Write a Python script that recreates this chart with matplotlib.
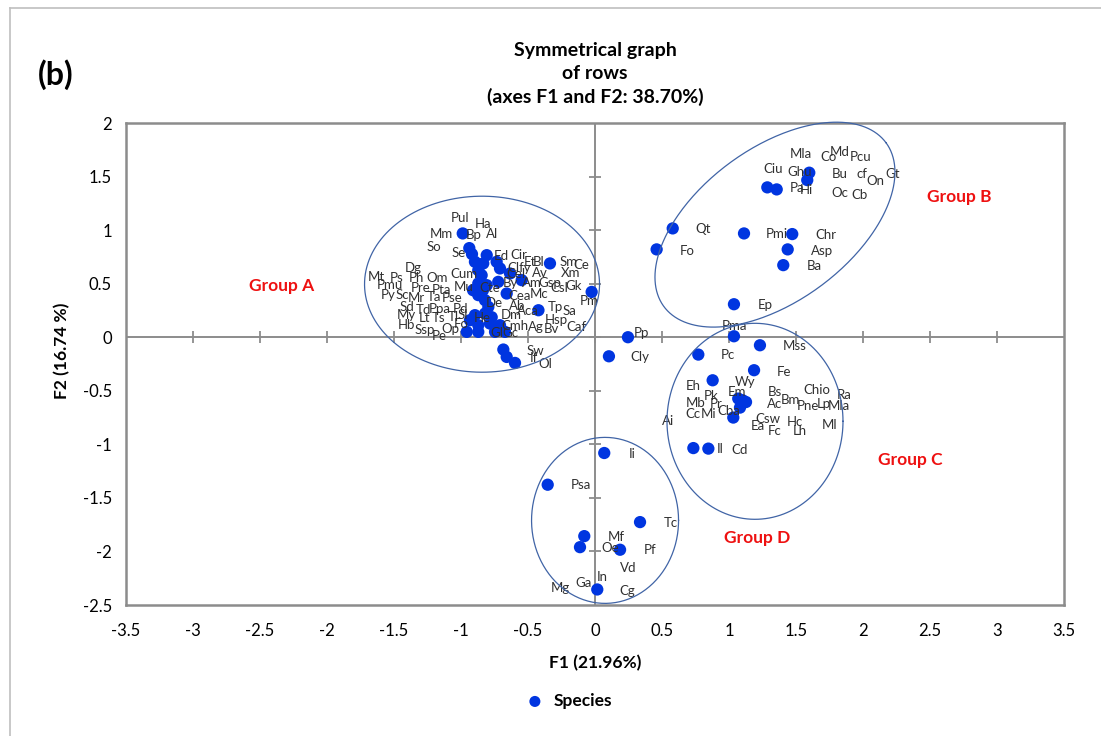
import numpy as np
import matplotlib.pyplot as plt
from matplotlib.lines import Line2D

# species scores on F1 / F2
f1 = [-0.987, -0.938, -0.918, -0.896, -0.808, -0.734, -0.709, -0.634, -0.547, -0.336,
      -0.722, -0.659, -0.422, -0.871, -0.834, -0.846, -0.871, -0.808, -0.871, -0.821,
      -0.796, -0.896, -0.821, -0.871, -0.784, -0.709, -0.957, -0.871, -0.746, -0.672,
      -0.771, -0.836, -0.910, -0.933, -0.684, -0.659, -0.597, -0.025,
      0.246, 0.104,
      0.580, 0.460, 1.112, 1.472, 1.438, 1.405, 1.037, 1.286, 1.356, 1.599, 1.584,
      1.037, 1.231, 0.771, 1.187, 0.878, 1.069, 1.127, 1.082, 1.032, 1.102, 0.734, 0.846,
      0.069, -0.353, 0.336, -0.080, -0.112, 0.187, 0.017]
f2 = [0.969, 0.832, 0.776, 0.704, 0.766, 0.704, 0.642, 0.595, 0.533, 0.689,
      0.517, 0.408, 0.252, 0.626, 0.689, 0.579, 0.502, 0.486, 0.393, 0.346,
      0.283, 0.206, 0.221, 0.112, 0.128, 0.112, 0.050, 0.050, 0.050, 0.050,
      0.187, 0.439, 0.439, 0.159, -0.115, -0.184, -0.240, 0.423,
      0.0, -0.178,
      1.016, 0.820, 0.969, 0.963, 0.820, 0.673, 0.308, 1.399, 1.380, 1.536, 1.467,
      0.009, -0.075, -0.162, -0.308, -0.402, -0.573, -0.605, -0.657, -0.750, -0.589, -1.035, -1.040,
      -1.081, -1.377, -1.726, -1.857, -1.960, -1.984, -2.355]

# data labels as they were placed on the chart
label_names = [
    "Pul", "Ha", "Mm", "Bp", "Al", "So", "Se", "Ed", "Cir", "Et", "Bl", "Sm", "Ce", "Dg",
    "Clfy", "Cel", "Av", "Xm", "Mt", "Ps", "Ph", "Om", "Cum", "Pmu", "Am", "Gsp", "Gk",
    "Csl", "By", "Pre", "Pta", "Mu", "Cte", "Py", "Sc", "Mr", "Ta", "Pse", "Cea", "Mc",
    "Pm", "De", "Sd", "Td", "Ppa", "Pd", "Ab", "Tp", "Sa", "Aca", "My", "Lt", "Ts", "Tl",
    "Sl", "He", "Dm", "Hsp", "Hb", "Ssp", "Op", "Fo", "Cmh", "Ag", "Bv", "Caf", "Pe", "Gl",
    "Gc", "Sw", "If", "Ol",
    "Pp", "Cly",
    "Mla", "Co", "Md", "Pcu", "Ciu", "Ghu", "Bu", "cf", "On", "Gt", "Pa", "Hi", "Oc", "Cb",
    "Qt", "Pmi", "Chr", "Fo", "Asp", "Ba", "Ep",
    "Pma", "Mss", "Pc", "Fe", "Wy", "Eh", "Chio", "Ra", "Bs", "Em", "Pk", "Bm", "Ac", "Mb",
    "Pr", "Pne", "Lp", "Mla", "Cba", "Cc", "Mi", "Csw", "Ai", "Ea", "Hc", "Ml", "Fc", "Lh",
    "Il", "Cd",
    "Ii", "Psa", "Tc", "Mf", "Oe", "Pf", "Vd", "In", "Ga", "Mg", "Cg",
]
label_f1 = [
    -1.007, -0.838, -1.144, -0.903, -0.766, -1.199, -1.020, -0.696, -0.572, -0.485, -0.423,
    -0.199, -0.099, -1.360, -0.565, -0.590, -0.410, -0.179, -1.634, -1.480, -1.336, -1.181,
    -0.975, -1.530, -0.472, -0.336, -0.162, -0.266, -0.634, -1.301, -1.149, -0.983, -0.789,
    -1.543, -1.435, -1.331, -1.201, -1.069, -0.565, -0.416, -0.043, -0.754, -1.405, -1.281,
    -1.157, -1.002, -0.584, -0.293, -0.192, -0.498, -1.405, -1.274, -1.166, -1.057, -0.983,
    -0.838, -0.622, -0.286, -1.405, -1.269, -1.082, -0.995, -0.597, -0.440, -0.328, -0.137,
    -1.164, -0.734, -0.634, -0.448, -0.455, -0.373,
    0.343, 0.336,
    1.535, 1.744, 1.823, 1.983, 1.331, 1.525, 1.828, 1.990, 2.090, 2.222, 1.510, 1.580,
    1.828, 1.972, 0.808, 1.356, 1.722, 0.689, 1.692, 1.637, 1.269,
    1.040, 1.493, 0.995, 1.413, 1.119, 0.734, 1.654, 1.860, 1.346, 1.057, 0.866, 1.460,
    1.343, 0.754, 0.903, 1.592, 1.709, 1.823, 1.002, 0.729, 0.851, 1.293, 0.543, 1.219,
    1.493, 1.754, 1.343, 1.525, 0.933, 1.082,
    0.274, -0.107, 0.565, 0.157, 0.117, 0.410, 0.249, 0.057, -0.087, -0.256, 0.241,
]
label_f2 = [
    1.109, 1.056, 0.960, 0.953, 0.963, 0.838, 0.782, 0.760, 0.766, 0.701, 0.704, 0.704,
    0.673, 0.648, 0.642, 0.589, 0.595, 0.595, 0.558, 0.549, 0.549, 0.549, 0.586, 0.486,
    0.502, 0.502, 0.477, 0.455, 0.502, 0.455, 0.439, 0.470, 0.464, 0.393, 0.393, 0.367,
    0.377, 0.362, 0.386, 0.399, 0.336, 0.324, 0.278, 0.252, 0.262, 0.268, 0.290, 0.278,
    0.246, 0.243, 0.206, 0.175, 0.184, 0.190, 0.212, 0.184, 0.206, 0.159, 0.112, 0.072,
    0.081, 0.121, 0.103, 0.096, 0.075, 0.096, 0.009, 0.035, 0.035, -0.131, -0.193, -0.246,
    0.037, -0.187,
    1.710, 1.679, 1.726, 1.685, 1.570, 1.545, 1.521, 1.521, 1.461, 1.521, 1.390, 1.374,
    1.343, 1.330, 1.007, 0.960, 0.953, 0.807, 0.807, 0.666, 0.299,
    0.103, -0.084, -0.168, -0.324, -0.418, -0.458, -0.489, -0.542, -0.511, -0.511, -0.551,
    -0.589, -0.626, -0.614, -0.620, -0.645, -0.620, -0.645, -0.689, -0.720, -0.720, -0.760,
    -0.785, -0.832, -0.792, -0.822, -0.879, -0.879, -1.047, -1.050,
    -1.093, -1.383, -1.736, -1.866, -1.969, -1.991, -2.152, -2.240, -2.293, -2.343, -2.371,
]

group_names = ["Group A", "Group B", "Group C", "Group D"]
group_f1 = [-2.34, 2.72, 2.35, 1.21]
group_f2 = [0.48, 1.31, -1.15, -1.87]

# hand-drawn ellipses: centre (F1, F2), semi-axes in pixels, tilt in degrees
ell_cx = [-0.843, 1.343, 1.194, 0.075]
ell_cy = [0.495, 1.051, -0.785, -1.710]
ell_a = [117.5, 138.0, 88.0, 73.5]
ell_b = [88.0, 76.5, 98.0, 83.0]
ell_tilt = [0.0, 36.4, 0.0, 0.0]

x_ticks = np.arange(-3.5, 3.51, 0.5)
y_ticks = np.arange(-2.5, 2.01, 0.5)

W, H = 1101, 736
fig = plt.figure(figsize=(W / 100, H / 100), dpi=100)
ax_l, ax_b, ax_w, ax_h = 126 / W, 1 - 605 / H, (1064 - 126) / W, (605 - 123) / H
ax = fig.add_axes([ax_l, ax_b, ax_w, ax_h])
ax.set_xlim(-3.5, 3.5)
ax.set_ylim(-2.5, 2.0)

grey = "#8c8c8c"
body = ["Lato", "DejaVu Sans"]

for s in ax.spines.values():
    s.set_color(grey)
    s.set_linewidth(1.8)

ax.set_xticks(x_ticks)
ax.set_yticks(y_ticks)
ax.set_xticklabels([f"{v:g}" for v in x_ticks], family=body, fontsize=12)
ax.set_yticklabels([f"{v:g}" for v in y_ticks], family=body, fontsize=12)
ax.tick_params(length=0, pad=13)
ax.tick_params(axis="y", pad=10)

# axes through the origin with crossing ticks
ax.axhline(0, color=grey, lw=1.4, zorder=1)
ax.axvline(0, color=grey, lw=1.4, zorder=1)
ax.plot(x_ticks[1:-1], np.zeros(len(x_ticks) - 2), ls="none", marker="|",
        ms=9, mew=1.3, color=grey, zorder=1)
ax.plot(np.zeros(len(y_ticks) - 2), y_ticks[1:-1], ls="none", marker="_",
        ms=9, mew=1.3, color=grey, zorder=1)

pts = ax.scatter(f1, f2, s=78, color="#0035e0", edgecolors="none", zorder=3,
                 label="Species")

for name, x, y in zip(label_names, label_f1, label_f2):
    ax.text(x, y, name, ha="center", va="center", fontsize=9.5, family=body,
            color="#303030", zorder=4)

for name, x, y in zip(group_names, group_f1, group_f2):
    ax.text(x, y, name, ha="center", va="center", fontsize=12.5, family=body,
            fontweight="bold", color="#ee1111", zorder=4)

# ellipses built in screen pixels so the tilt looks right
px_x = ax_w * W / 7.0
px_y = ax_h * H / 4.5
t = np.linspace(0, 2 * np.pi, 300)
for cx, cy, a, b, ang in zip(ell_cx, ell_cy, ell_a, ell_b, ell_tilt):
    th = np.radians(ang)
    u, v = a * np.cos(t), b * np.sin(t)
    ex = cx + (u * np.cos(th) - v * np.sin(th)) / px_x
    ey = cy + (u * np.sin(th) + v * np.cos(th)) / px_y
    ax.plot(ex, ey, color="#4064a6", lw=0.9, zorder=5, clip_on=False)

fig.text(595 / W, 1 - 74 / H, "Symmetrical graph\nof rows\n(axes F1 and F2: 38.70%)",
         ha="center", va="center", fontsize=14, fontweight="bold", family=body,
         linespacing=1.4)
fig.text(56 / W, 1 - 75 / H, "(b)", ha="center", va="center", fontsize=23,
         family=body, fontweight="bold")
fig.text(595 / W, 1 - 663 / H, "F1 (21.96%)", ha="center", va="center",
         fontsize=12.5, family=body, fontweight="bold")
fig.text(62 / W, 1 - 351 / H, "F2 (16.74 %)", ha="center", va="center",
         rotation=90, fontsize=12.5, family=body, fontweight="bold")

fig.legend(handles=[pts], loc="center", bbox_to_anchor=(565 / W, 1 - 701 / H),
           frameon=False, handletextpad=0.1, markerscale=0.9,
           prop={"family": body, "weight": "bold", "size": 12.5})

# outer chart border (top and left visible)
fig.add_artist(Line2D([10 / W, 10 / W], [0, 1 - 8 / H], color="#bfbfbf", lw=1.2))
fig.add_artist(Line2D([10 / W, 1], [1 - 8 / H, 1 - 8 / H], color="#bfbfbf", lw=1.2))

fig.savefig("out.png", dpi=100)
